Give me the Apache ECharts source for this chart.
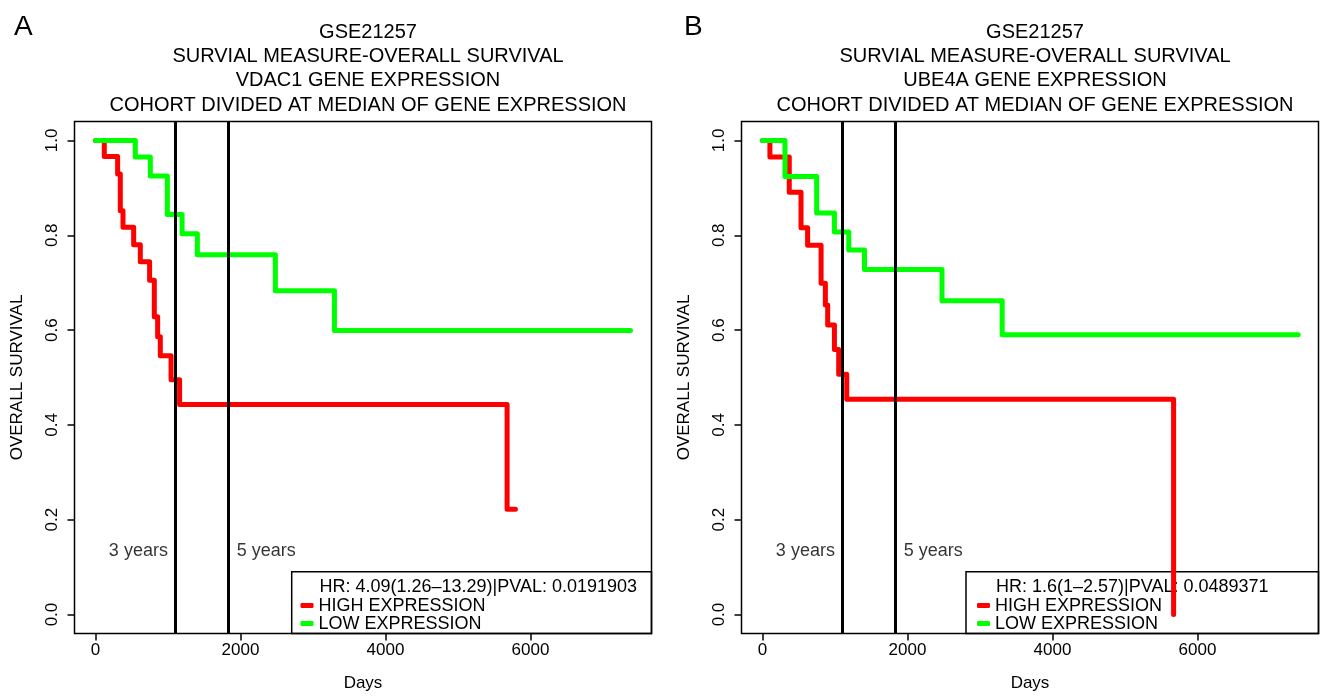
<!DOCTYPE html>
<html>
<head>
<meta charset="utf-8">
<script src="https://cdn.jsdelivr.net/npm/echarts@6/dist/echarts.min.js"></script>
<style>
html, body { margin: 0; padding: 0; background: #fff; }
#chart { width: 1324px; height: 697px; }
</style>
</head>
<body>
<div id="chart"></div>
<script>
// panel A: VDAC1
var aHighDays = [0, 121, 305, 342, 379, 526, 618, 746, 811, 857, 894, 1042, 1160, 5678, 5793];
var aHighSurv = [1, 0.966, 0.929, 0.852, 0.817, 0.780, 0.744, 0.705, 0.628, 0.586, 0.546, 0.495, 0.443, 0.222, 0.222];
var aLowDays = [0, 549, 756, 991, 1194, 1405, 2481, 3296, 7380];
var aLowSurv = [1, 0.965, 0.925, 0.844, 0.803, 0.759, 0.683, 0.599, 0.599];

// panel B: UBE4A
var bHighDays = [0, 102, 369, 531, 622, 808, 867, 899, 992, 1051, 1162, 5671];
var bHighSurv = [1, 0.965, 0.891, 0.816, 0.779, 0.699, 0.653, 0.611, 0.559, 0.507, 0.454, 0];
var bLowDays = [0, 310, 747, 992, 1190, 1407, 2476, 3306, 7390];
var bLowSurv = [1, 0.924, 0.847, 0.807, 0.769, 0.728, 0.662, 0.590, 0.590];

var xTicks = [0, 2000, 4000, 6000];
var yTicks = [0, 0.2, 0.4, 0.6, 0.8, 1.0];
var yearDays = [1095, 1825];
var yearLabels = ['3 years', '5 years'];

var titlesA = ['GSE21257', 'SURVIAL MEASURE-OVERALL SURVIVAL', 'VDAC1 GENE EXPRESSION', 'COHORT DIVIDED AT MEDIAN OF GENE EXPRESSION'];
var titlesB = ['GSE21257', 'SURVIAL MEASURE-OVERALL SURVIVAL', 'UBE4A GENE EXPRESSION', 'COHORT DIVIDED AT MEDIAN OF GENE EXPRESSION'];
var hrA = 'HR: 4.09(1.26\u201313.29)|PVAL: 0.0191903';
var hrB = 'HR: 1.6(1\u20132.57)|PVAL: 0.0489371';
var legendNames = ['HIGH EXPRESSION', 'LOW EXPRESSION'];

var FONT = '"Liberation Sans", Arial, Helvetica, sans-serif';

function pairs(xs, ys) {
  return xs.map(function (x, i) { return [x, ys[i]]; });
}

var chart = echarts.init(document.getElementById('chart'));

// layout of the two plot boxes
var boxes = [
  { left: 74.5, top: 121.5, width: 577, height: 512 },
  { left: 741.5, top: 121.5, width: 577, height: 512 }
];

var grids = [], xAxes = [], yAxes = [], series = [], titles = [], legends = [], graphics = [];

function addPanel(i, letter, titleLines, highDays, highSurv, lowDays, lowSurv, hr, legendBox) {
  var b = boxes[i];
  grids.push({ left: b.left, top: b.top, width: b.width, height: b.height,
    show: true, borderColor: '#000', borderWidth: 1.5, backgroundColor: 'transparent' });

  xAxes.push({
    gridIndex: i, type: 'value', min: -290, max: 7670, position: 'bottom',
    name: 'Days', nameLocation: 'middle', nameGap: 41,
    nameTextStyle: { fontFamily: FONT, fontSize: 17, color: '#000' },
    axisLine: { show: false, onZero: false },
    axisTick: { show: true, length: 7, customValues: xTicks, lineStyle: { color: '#000', width: 1.5 } },
    axisLabel: { customValues: xTicks, margin: 8, fontFamily: FONT, fontSize: 17, color: '#000',
      formatter: function (v) { return String(v); } },
    splitLine: { show: false }
  });
  yAxes.push({
    gridIndex: i, type: 'value', min: -0.04, max: 1.04, position: 'left',
    name: 'OVERALL SURVIVAL', nameLocation: 'middle', nameGap: 49,
    nameTextStyle: { fontFamily: FONT, fontSize: 17, color: '#000' },
    axisLine: { show: false, onZero: false },
    axisTick: { show: true, length: 7, customValues: yTicks, lineStyle: { color: '#000', width: 1.5 } },
    axisLabel: { customValues: yTicks, rotate: 90, margin: 14, fontFamily: FONT, fontSize: 17, color: '#000',
      formatter: function (v) { return v.toFixed(1); } },
    splitLine: { show: false }
  });

  var lineBase = { type: 'line', xAxisIndex: i, yAxisIndex: i, step: 'end', showSymbol: false,
    symbol: 'none', silent: true, animation: false };
  series.push(Object.assign({}, lineBase, {
    name: legendNames[0], color: '#ff0000', z: 2,
    lineStyle: { color: '#ff0000', width: 5, cap: 'round', join: 'round' },
    data: pairs(highDays, highSurv)
  }));
  series.push(Object.assign({}, lineBase, {
    name: legendNames[1], color: '#00ff00', z: 3,
    lineStyle: { color: '#00ff00', width: 5, cap: 'round', join: 'round' },
    data: pairs(lowDays, lowSurv)
  }));
  // 3 / 5 year markers
  series.push({
    type: 'scatter', xAxisIndex: i, yAxisIndex: i, symbolSize: 0, silent: true, z: 5, animation: false,
    itemStyle: { color: '#000' },
    label: { show: true, color: '#000', fontFamily: FONT, fontSize: 18 },
    data: yearDays.map(function (d, k) {
      return { value: [d, 0.133], label: { formatter: yearLabels[k],
        position: k === 0 ? 'left' : 'right', distance: k === 0 ? 7 : 9 } };
    }),
    markLine: { silent: true, symbol: 'none', animation: false, label: { show: false },
      lineStyle: { color: '#000', width: 3, type: 'solid' },
      data: yearDays.map(function (d) { return { xAxis: d }; }) }
  });

  titles.push({ text: titleLines.join('\n'), left: b.left + b.width / 2, top: 15, textAlign: 'center',
    textStyle: { fontFamily: FONT, fontSize: 20, fontWeight: 'normal', color: '#000', lineHeight: 24.3 } });
  titles.push({ text: letter, left: i === 0 ? 9 : 679, top: 8,
    textStyle: { fontFamily: FONT, fontSize: 28, fontWeight: 'normal', color: '#000' } });

  legends.push({ data: legendNames, orient: 'vertical', left: legendBox.iconX, top: 596.6,
    itemWidth: 13, itemHeight: 5, itemGap: 0, itemTextGap: 6, icon: 'roundRect', padding: 0,
    selectedMode: false, textStyle: { fontFamily: FONT, fontSize: 18, color: '#000', lineHeight: 17.4 } });

  graphics.push({ type: 'rect', z: 1, silent: true,
    shape: { x: legendBox.x, y: 571.7, width: b.left + b.width - legendBox.x, height: b.top + b.height - 571.7 },
    style: { fill: 'none', stroke: '#000', lineWidth: 1.5 } });
  graphics.push({ type: 'text', z: 1, silent: true, x: legendBox.iconX + 19, y: 586.7,
    style: { text: hr, fontFamily: FONT, fontSize: 18, fill: '#000', verticalAlign: 'middle' } });
}

addPanel(0, 'A', titlesA, aHighDays, aHighSurv, aLowDays, aLowSurv, hrA, { x: 291.7, iconX: 300.5 });
addPanel(1, 'B', titlesB, bHighDays, bHighSurv, bLowDays, bLowSurv, hrB, { x: 966, iconX: 977 });

chart.setOption({
  backgroundColor: '#fff',
  animation: false,
  title: titles,
  legend: legends,
  grid: grids,
  xAxis: xAxes,
  yAxis: yAxes,
  series: series,
  graphic: graphics
});
</script>
</body>
</html>
